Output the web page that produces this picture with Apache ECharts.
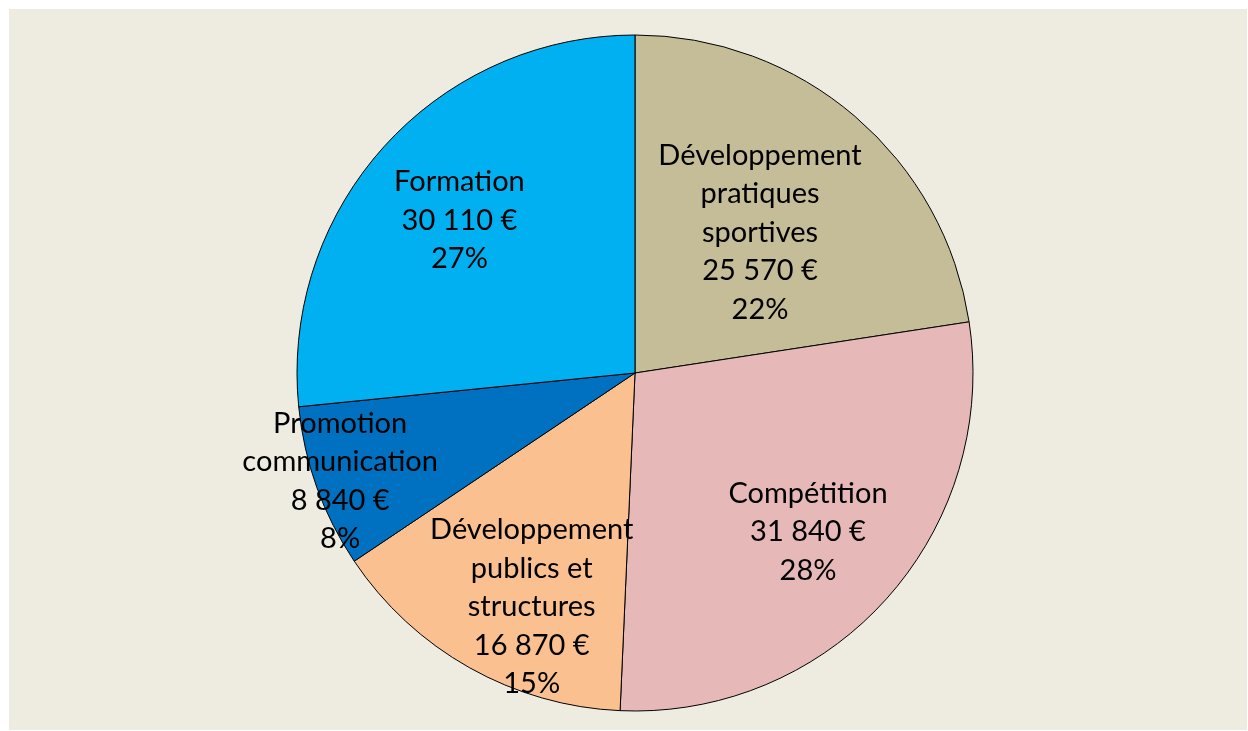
<!DOCTYPE html>
<html>
<head>
<meta charset="utf-8">
<script src="https://cdn.jsdelivr.net/npm/echarts@6/dist/echarts.min.js"></script>
<style>
  html, body { margin: 0; padding: 0; background: #ffffff; }
  #chart { position: absolute; left: 9px; top: 9px; width: 1238px; height: 721px; background: #EEECE1; }
</style>
</head>
<body>
<div id="chart"></div>
<script>
// Données du graphique (sens horaire à partir de midi)
var categories = [
  'Développement\npratiques\nsportives',
  'Compétition',
  'Développement\npublics et\nstructures',
  'Promotion\ncommunication',
  'Formation'
]
var amounts = [25570, 31840, 16870, 8840, 30110]
var colors = ['#C4BD97', '#E6B9B8', '#FAC090', '#0070C0', '#00B0F0']

// décalage des étiquettes par rapport à la position "inside" par défaut
var labelShift = [[13, -10], [45, 44], [-19, 84], [-133, 50], [-48, -37]]

function euros(v) {
  return String(v).replace(/\B(?=(\d{3})+(?!\d))/g, ' ') + ' €'
}

var myChart = echarts.init(document.getElementById('chart'))
var option = {
  animation: false,
  series: [
    {
      type: 'pie',
      center: [626, 364],
      radius: 338,
      startAngle: 90,
      clockwise: true,
      percentPrecision: 0,
      itemStyle: {
        borderColor: '#000000',
        borderWidth: 1
      },
      label: {
        show: true,
        position: 'inside',
        color: '#000000',
        fontFamily: 'Lato',
        fontSize: 29,
        lineHeight: 38.5,
        align: 'center',
        formatter: function (p) {
          return p.name + '\n' + euros(p.value) + '\n' + p.percent + '%'
        }
      },
      labelLayout: function (p) {
        var s = labelShift[p.dataIndex]
        return { dx: s[0], dy: s[1] }
      },
      emphasis: { disabled: true },
      data: categories.map(function (name, i) {
        return { name: name, value: amounts[i], itemStyle: { color: colors[i] } }
      })
    }
  ]
}
myChart.setOption(option)
</script>
</body>
</html>
